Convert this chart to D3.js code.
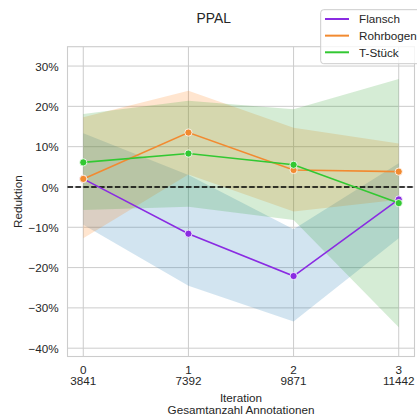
<!DOCTYPE html>
<html>
<head>
<meta charset="utf-8">
<script src="https://cdn.jsdelivr.net/npm/d3@7"></script>
<style>
  html, body { margin: 0; padding: 0; background: #fff; }
  svg { display: block; font-family: "Liberation Sans", Arial, sans-serif; }
</style>
</head>
<body>
<svg id="chart" width="417" height="417"></svg>
<script>
// Iterations and the total number of annotations after each one
const iterations = [0, 1, 2, 3];
const totals = ["3841", "7392", "9871", "11442"];

// Mean reduction (%) per class, with lower / upper confidence bounds
const flansch   = [2.0, -11.6, -22.1, -3.1];
const flanschLo = [-9.4, -24.5, -33.4, -12.7];
const flanschHi = [13.3, 3.0, -10.5, 5.9];

const rohrbogen   = [2.0, 13.5, 4.2, 3.8];
const rohrbogenLo = [-12.7, 3.1, -6.1, -3.2];
const rohrbogenHi = [17.3, 23.9, 14.7, 10.8];

const tstueck   = [6.1, 8.3, 5.5, -4.0];
const tstueckLo = [-5.7, -4.9, -8.2, -34.8];
const tstueckHi = [18.1, 21.4, 19.3, 26.8];

const yTicks = [-40, -30, -20, -10, 0, 10, 20, 30];

const series = [
  { name: "Flansch",   mean: flansch,   lo: flanschLo,   hi: flanschHi,   line: "#8a2be2", band: "#1f77b4" },
  { name: "Rohrbogen", mean: rohrbogen, lo: rohrbogenLo, hi: rohrbogenHi, line: "#f28a30", band: "#ff7f0e" },
  { name: "T-Stück",   mean: tstueck,   lo: tstueckLo,   hi: tstueckHi,   line: "#32c832", band: "#2ca02c" }
];

const svg = d3.select("#chart");
const plotLeft = 67.5, plotRight = 414.5, plotTop = 46.7, plotBottom = 356.5;

const x = d3.scaleLinear().domain([-0.15, 3.15]).range([plotLeft, plotRight]);
const y = d3.scaleLinear().domain([-42.06, 34.8]).range([plotBottom, plotTop]);

const textColor = "#262626";
const gridColor = "#cccccc";
const fmtPct = v => (v < 0 ? "\u2212" : "") + Math.abs(v) + "%";

// grid
const grid = svg.append("g");
grid.selectAll("line.h").data(yTicks).join("line")
  .attr("x1", plotLeft).attr("x2", plotRight)
  .attr("y1", d => y(d)).attr("y2", d => y(d))
  .attr("stroke", gridColor).attr("stroke-width", 1);
grid.selectAll("line.v").data(iterations).join("line")
  .attr("x1", d => x(d)).attr("x2", d => x(d))
  .attr("y1", plotTop).attr("y2", plotBottom)
  .attr("stroke", gridColor).attr("stroke-width", 1);

// confidence bands
const area = d3.area()
  .x((d, i) => x(iterations[i]))
  .y0(d => y(d[0]))
  .y1(d => y(d[1]));
series.forEach(s => {
  const pts = s.lo.map((v, i) => [v, s.hi[i]]);
  svg.append("path").datum(pts)
    .attr("d", area)
    .attr("fill", s.band).attr("fill-opacity", 0.2).attr("stroke", "none");
});

// frame
svg.append("rect")
  .attr("x", plotLeft).attr("y", plotTop)
  .attr("width", plotRight - plotLeft).attr("height", plotBottom - plotTop)
  .attr("fill", "none").attr("stroke", gridColor).attr("stroke-width", 1.1);

// zero reference line
svg.append("line")
  .attr("x1", plotLeft).attr("x2", plotRight)
  .attr("y1", y(0)).attr("y2", y(0))
  .attr("stroke", "#000").attr("stroke-width", 1.5)
  .attr("stroke-dasharray", "5.5,2.4");

// lines and markers
const line = d3.line().x((d, i) => x(iterations[i])).y(d => y(d));
series.forEach(s => {
  svg.append("path").datum(s.mean)
    .attr("d", line)
    .attr("fill", "none").attr("stroke", s.line).attr("stroke-width", 1.6);
  svg.append("g").selectAll("circle").data(s.mean).join("circle")
    .attr("cx", (d, i) => x(iterations[i]))
    .attr("cy", d => y(d))
    .attr("r", 3.6)
    .attr("fill", s.line).attr("stroke", "#fff").attr("stroke-width", 0.8);
});

// y tick labels
svg.append("g").selectAll("text").data(yTicks).join("text")
  .attr("x", 58.7).attr("y", d => y(d) + 4.6)
  .attr("text-anchor", "end")
  .attr("font-size", "11.7px").attr("fill", textColor)
  .text(fmtPct);

// x tick labels (iteration / total annotations)
const xt = svg.append("g").selectAll("text").data(iterations).join("text")
  .attr("text-anchor", "middle")
  .attr("font-size", "11.7px").attr("fill", textColor);
xt.append("tspan").attr("x", d => x(d)).attr("y", 373.5).text(d => d);
xt.append("tspan").attr("x", d => x(d)).attr("y", 385.2).text((d, i) => totals[i]);

// axis labels
const midX = (plotLeft + plotRight) / 2;
svg.append("text")
  .attr("x", midX).attr("y", 401.8)
  .attr("text-anchor", "middle").attr("font-size", "11.7px").attr("fill", textColor)
  .text("Iteration");
svg.append("text")
  .attr("x", midX).attr("y", 413.5)
  .attr("text-anchor", "middle").attr("font-size", "11.7px").attr("fill", textColor)
  .text("Gesamtanzahl Annotationen");
svg.append("text")
  .attr("transform", `translate(22.3, ${(plotTop + plotBottom) / 2}) rotate(-90)`)
  .attr("text-anchor", "middle").attr("font-size", "11.7px").attr("fill", textColor)
  .text("Reduktion");

// title
svg.append("text")
  .attr("x", 213.7).attr("y", 23.4)
  .attr("text-anchor", "middle").attr("font-size", "13.8px").attr("fill", textColor)
  .text("PPAL");

// legend
const legend = svg.append("g");
legend.append("rect")
  .attr("x", 320.7).attr("y", 9.7).attr("width", 110).attr("height", 54)
  .attr("rx", 3)
  .attr("fill", "#fff").attr("fill-opacity", 0.8)
  .attr("stroke", gridColor).attr("stroke-width", 1);
const rows = legend.selectAll("g.row").data(series).join("g")
  .attr("transform", (d, i) => `translate(0, ${19 + i * 16.65})`);
rows.append("line")
  .attr("x1", 325).attr("x2", 349).attr("y1", 0).attr("y2", 0)
  .attr("stroke", d => d.line).attr("stroke-width", 2);
rows.append("text")
  .attr("x", 359).attr("y", 4.2)
  .attr("font-size", "11.7px").attr("fill", textColor)
  .text(d => d.name);
</script>
</body>
</html>
